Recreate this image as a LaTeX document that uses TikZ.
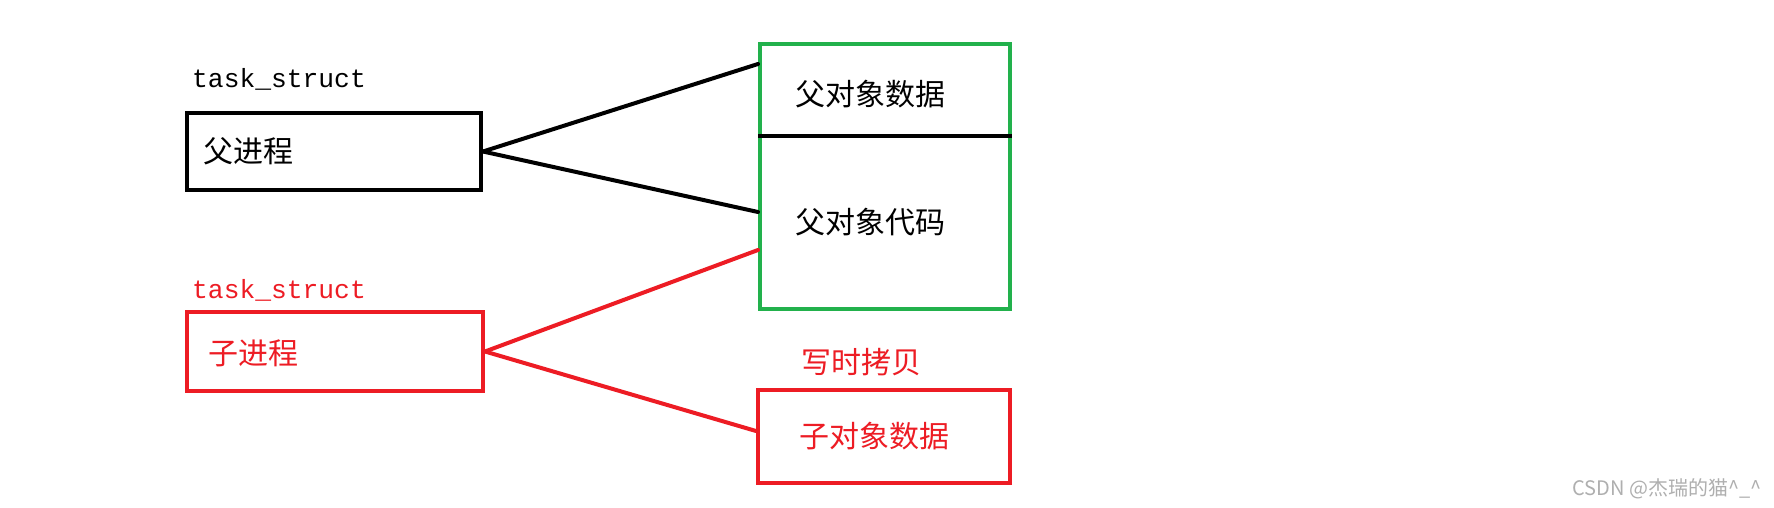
\documentclass[tikz,border=0pt]{standalone}
\usepackage{fontspec}
\usetikzlibrary{calc}
\newfontfamily\cjk{Noto Sans CJK SC}
\newfontfamily\monof{Liberation Mono}
\definecolor{pred}{RGB}{237,28,36}
\definecolor{pgreen}{RGB}{34,177,76}
\definecolor{wm}{RGB}{175,175,175}
\begin{document}
\begin{tikzpicture}[x=1pt,y=-1pt,
  boxx/.style={draw, line width=4pt, inner sep=0pt},
  lbl/.style={anchor=west, inner sep=0pt, font=\cjk\fontsize{30}{32}\selectfont},
  code/.style={anchor=west, inner sep=0pt, font=\monof\fontsize{26.3}{28}\selectfont},
  conn/.style={line width=4pt}]
\useasboundingbox[fill=white] (0,0) rectangle (1774,508);
% boxes
\node[boxx, draw=black, minimum width=294pt, minimum height=77pt] (parent) at (334,151.5) {};
\node[boxx, draw=pred, minimum width=296pt, minimum height=79pt] (child) at (335,351.5) {};
\node[boxx, draw=pgreen, minimum width=250pt, minimum height=265pt] (shared) at (885,176.5) {};
\node[boxx, draw=pred, minimum width=252pt, minimum height=93pt] (copy) at (884,436.5) {};
% divider
\coordinate (dl) at ($(shared.north west)+(0,94)$);
\coordinate (dr) at ($(shared.north east)+(0,94)$);
\draw[conn, black] (dl) -- (dr);
% labels
\node[code] (t1) at (192,79) {task\_struct};
\node[code, text=pred] (t2) at (192,290) {task\_struct};
\node[lbl] (pl) at (203,151) {父进程};
\node[lbl, text=pred] (cl) at (208,353) {子进程};
\node[lbl] (d1) at (795,94) {父对象数据};
\node[lbl] (d2) at (795,222) {父对象代码};
\node[lbl, text=pred] (cw) at (801,362) {写时拷贝};
\node[lbl, text=pred] (d3) at (799,436) {子对象数据};
% connectors
\coordinate (pa) at ($(shared.north west)+(0,22)$);
\coordinate (pb) at ($(shared.north west)+(0,170)$);
\coordinate (pc) at ($(shared.north west)+(0,208)$);
\coordinate (pd) at ($(copy.north west)+(0,43)$);
\draw[conn, black, line cap=round] (parent.east) -- (pa);
\draw[conn, black, line cap=round] (parent.east) -- (pb);
\draw[conn, pred, line cap=round] (child.east) -- (pc);
\draw[conn, pred, line cap=round] (child.east) -- (pd);
% watermark
\node[anchor=east, inner sep=0pt, text=wm, font=\cjk\fontsize{20}{22}\selectfont] (wmk) at (1762,489) {CSDN @杰瑞的猫\^{}\_\^{}};
\end{tikzpicture}
\end{document}
